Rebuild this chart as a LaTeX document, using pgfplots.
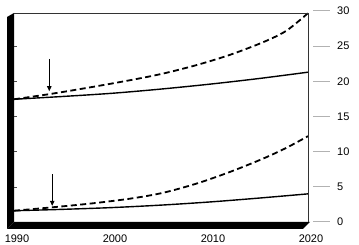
\documentclass[border=0pt]{standalone}
\usepackage{fontspec}
\setmainfont{Liberation Sans}
\usepackage{pgfplots}
\pgfplotsset{compat=1.18}
\usetikzlibrary{arrows.meta}
\begin{document}
\fontsize{11}{13}\selectfont
\begin{tikzpicture}
\begin{axis}[
  scale only axis, width=294pt, height=211pt,
  xmin=1990, xmax=2020, ymin=0, ymax=30,
  axis line style={draw=none},
  xtick={1990,2000,2010,2020},
  xticklabels={1990,2000,2010,2020},
  major tick length=0pt,
  xticklabel style={yshift=-9pt,xshift=3pt},
  ytick={0,5,10,15,20,25,30},
  ytick pos=right, yticklabel pos=right,
  yticklabel={\textcolor{gray!60}{\rule[3.6pt]{17pt}{0.8pt}}\hspace{7pt}\pgfmathprintnumber{\tick}},
  yticklabel style={anchor=west, xshift=1.3pt},
  /pgf/number format/assume math mode=true,
  tick label style={font=\fontsize{11}{13}\selectfont},
]
% upper solid
\addplot[black, line width=1.4pt, smooth] coordinates {
 (1990,17.45) (1995,17.85) (2000,18.3) (2005,18.9) (2010,19.6) (2015,20.4) (2020,21.3)};
% upper dashed
\addplot[black, line width=1.8pt, dash pattern=on 6pt off 3.5pt, smooth] coordinates {
 (1990,17.45) (1993.7,18.2) (1998,19.2) (2002,20.2) (2005.2,21.1) (2008.6,22.3) (2012,23.75) (2015.4,25.55) (2017.8,27.2) (2020,29.7)};
% lower solid
\addplot[black, line width=1.4pt, smooth] coordinates {
 (1990,1.6) (1995,1.8) (2000,2.05) (2005,2.4) (2010,2.85) (2015,3.4) (2020,4.0)};
% lower dashed
\addplot[black, line width=1.8pt, dash pattern=on 6pt off 3.5pt, smooth] coordinates {
 (1990,1.6) (1994,2.1) (1998,2.65) (2002,3.35) (2005.2,4.15) (2008.6,5.45) (2012,7.1) (2015.4,9.0) (2017.8,10.55) (2020,12.2)};
% arrows
\draw[-{Triangle[length=5pt,width=4.5pt]}, line width=0.8pt] (axis cs:1993.6,23.2) -- (axis cs:1993.6,18.6);
\draw[-{Triangle[length=5pt,width=4.5pt]}, line width=0.8pt] (axis cs:1993.9,6.8) -- (axis cs:1993.9,2.3);
\coordinate (O) at (rel axis cs:0,0);
\end{axis}
\begin{scope}[shift={(O)}, x=1pt, y=1pt]
  \fill[black] (-7,205) -- (0,209) -- (0,0) -- (-7,-7) -- cycle;
  \fill[black] (-7,-7) -- (0,0) -- (296,0) -- (289,-7) -- cycle;
  \draw[black!80, line width=0.6pt] (0,209) -- (294,209) -- (294,0);
  \foreach \k in {1,...,5} \draw[black!70, line width=0.5pt] (0,35.17*\k) -- (3,35.17*\k);
\end{scope}
\pgfresetboundingbox
\path[shift={(O)}] (-14pt,-23pt) rectangle (345pt,222pt);
\end{tikzpicture}
\end{document}
